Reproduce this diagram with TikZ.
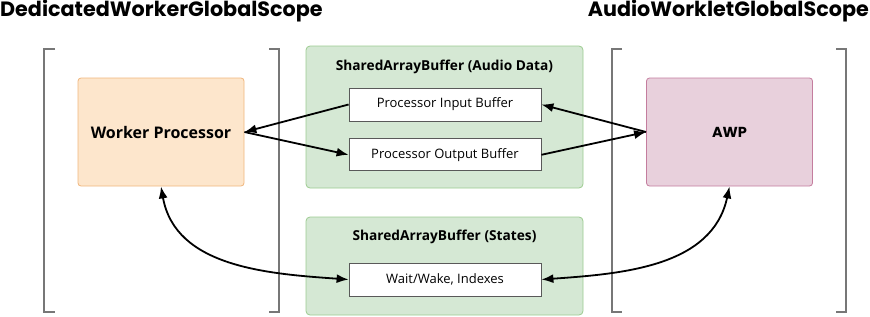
\documentclass[tikz,border=0pt]{standalone}
\usepackage{fontspec}
\setmainfont{Open Sans}
\newfontfamily\headfont{Poppins}
\usetikzlibrary{arrows.meta, positioning}
\definecolor{sabfill}{HTML}{D5E8D4}
\definecolor{sabline}{HTML}{9CCB90}
\definecolor{wpfill}{HTML}{FDE6CC}
\definecolor{wpline}{HTML}{F0B67C}
\definecolor{awpfill}{HTML}{E8D0DC}
\definecolor{awpline}{HTML}{C47D9E}
\definecolor{scopegray}{HTML}{777777}
\begin{document}
\begin{tikzpicture}[x=1pt, y=1pt,
      >={Latex[length=12pt, width=9pt]},
      head/.style={font=\headfont\bfseries\fontsize{20.7}{24}\selectfont, inner sep=0pt},
      proc/.style={draw, rounded corners=3pt, minimum width=166pt, minimum height=108pt, line width=0.8pt},
      sab/.style={draw=sabline, fill=sabfill, rounded corners=4pt, minimum width=277pt, line width=0.8pt},
      sabtitle/.style={font=\bfseries\fontsize{13.7}{16}\selectfont, inner sep=0pt},
      buf/.style={draw=black!65, fill=white, minimum width=192pt, minimum height=33pt, font=\fontsize{13}{15}\selectfont, line width=0.8pt},
      link/.style={line width=1.8pt},
      bracket/.style={draw=scopegray, line width=1.1pt}]
    \useasboundingbox (0,0) rectangle (870,-316);
    % scope titles
    \node[head, anchor=north west] (dws) at (0,0) {DedicatedWorkerGlobalScope};
    \node[head, anchor=north east] (aws) at (869,0) {AudioWorkletGlobalScope};
    % scope brackets
    \draw[bracket] (55,-49) -- (44,-49) -- (44,-312) -- (55,-312);
    \draw[bracket] (269,-49) -- (279,-49) -- (279,-312) -- (269,-312);
    \draw[bracket] (622,-49) -- (612,-49) -- (612,-312) -- (622,-312);
    \draw[bracket] (836,-49) -- (846,-49) -- (846,-312) -- (836,-312);
    % processors
    \node[proc, draw=wpline, fill=wpfill, font=\bfseries\fontsize{16}{19}\selectfont] (wp) at (161,-132) {Worker Processor};
    \node[proc, draw=awpline, fill=awpfill, font=\headfont\bfseries\fontsize{14.5}{17}\selectfont] (awp) at (729.5,-132) {AWP};
    % shared buffers
    \node[sab, minimum height=142pt] (audio) at (444.5,-117) {};
    \node[sabtitle] (audiot) at (444.5,-67) {SharedArrayBuffer (Audio Data)};
    \node[buf] (inbuf) at (445,-104.5) {Processor Input Buffer};
    \node[buf, below=17pt of inbuf, minimum height=32pt] (outbuf) {Processor Output Buffer};
    \node[sab, minimum height=98pt] (states) at (444.5,-266) {};
    \node[sabtitle] (statest) at (444.5,-237) {SharedArrayBuffer (States)};
    \node[buf] (wait) at (445,-279.5) {Wait/Wake, Indexes};
    % data flow
    \draw[link, ->] (inbuf.west) -- (wp.east);
    \draw[link, ->] (wp.east) -- (outbuf.west);
    \draw[link, ->] (awp.west) -- (inbuf.east);
    \draw[link, ->] (outbuf.east) -- (awp.west);
    \draw[link, <->] (wp.south) to[out=-80, in=176] (wait.west);
    \draw[link, <->] (wait.east) to[out=4, in=-102] (awp.south);
  \end{tikzpicture}
\end{document}
